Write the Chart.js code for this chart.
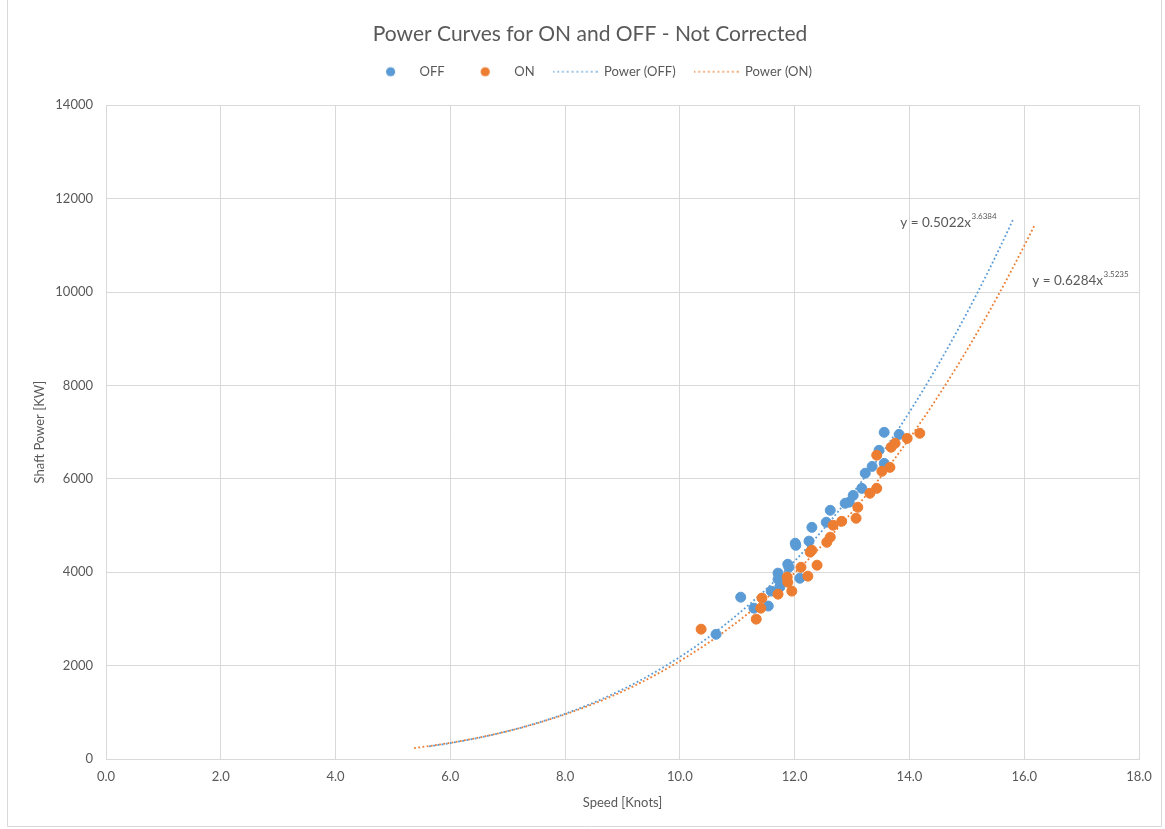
<!DOCTYPE html>
<html>
<head>
<meta charset="utf-8">
<title>Power Curves for ON and OFF - Not Corrected</title>
<script src="https://cdn.jsdelivr.net/npm/chart.js@4.4.0/dist/chart.umd.min.js"></script>
<style>
  html, body { margin: 0; padding: 0; background: #ffffff; }
  #wrap { width: 1165px; height: 829px; position: relative; }
  canvas { display: block; }
</style>
</head>
<body>
<div id="wrap"><canvas id="chart" width="1165" height="829"></canvas></div>
<script>
// Sea-trial measurements: speed through water [knots] vs. shaft power [kW]
const offSpeed = [10.63, 11.06, 11.29, 11.54, 11.59, 11.71, 11.71, 11.74, 11.88, 11.90, 12.09, 12.01, 12.02, 12.25,
                  12.30, 12.55, 12.62, 12.88, 12.95, 13.02, 13.17, 13.23, 13.35, 13.47, 13.56, 13.56, 13.82];
const offPower = [2670, 3465, 3230, 3275, 3595, 3980, 3850, 3680, 4170, 4105, 3870, 4620, 4575, 4665,
                  4960, 5070, 5325, 5475, 5500, 5645, 5795, 6120, 6265, 6610, 6995, 6330, 6950];

const onSpeed = [10.37, 11.33, 11.41, 11.43, 11.71, 11.87, 11.88, 11.95, 12.11, 12.23, 12.27, 12.30, 12.39, 12.56,
                 12.62, 12.67, 12.82, 13.07, 13.10, 13.31, 13.43, 13.43, 13.52, 13.66, 13.68, 13.75, 13.96, 14.18];
const onPower = [2780, 2995, 3230, 3445, 3530, 3895, 3785, 3595, 4105, 3915, 4430, 4470, 4150, 4640,
                 4750, 5005, 5090, 5155, 5390, 5690, 5795, 6505, 6160, 6245, 6675, 6760, 6865, 6975];

// Power-law trendlines y = a * x^b (fitted coefficients, with forecast range)
const offCoef = 0.5022, offExp = 3.6384, offRange = [5.63, 15.82];
const onCoef = 0.6284, onExp = 3.5235, onRange = [5.37, 16.18];

const seriesNames = ['OFF', 'ON', 'Power (OFF)', 'Power (ON)'];
const xTickValues = [0, 2, 4, 6, 8, 10, 12, 14, 16, 18];
const yTickValues = [0, 2000, 4000, 6000, 8000, 10000, 12000, 14000];

const BLUE = '#5B9BD5';
const ORANGE = '#ED7D31';
const TEXT = '#595959';
const GRID = '#D9D9D9';
const FONT = 'Lato';

function toPoints(xs, ys) {
  return xs.map((x, i) => ({ x: x, y: ys[i] }));
}

function powerCurve(a, b, range) {
  const pts = [];
  const steps = 120;
  for (let i = 0; i <= steps; i++) {
    const x = range[0] + (range[1] - range[0]) * i / steps;
    pts.push({ x: x, y: a * Math.pow(x, b) });
  }
  return pts;
}

// Small canvases used as legend symbols
function markerSymbol(color) {
  const c = document.createElement('canvas');
  c.width = 45; c.height = 14;
  const g = c.getContext('2d');
  g.fillStyle = color;
  g.beginPath();
  g.arc(22.5, 7, 4.6, 0, Math.PI * 2);
  g.fill();
  return c;
}
function dottedSymbol(color) {
  const c = document.createElement('canvas');
  c.width = 45; c.height = 4;
  const g = c.getContext('2d');
  g.strokeStyle = color;
  g.lineWidth = 1.6;
  g.setLineDash([1.6, 3.2]);
  g.beginPath();
  g.moveTo(0, 2);
  g.lineTo(45, 2);
  g.stroke();
  return c;
}

// Equation labels for the two trendlines
const equationPlugin = {
  id: 'equations',
  afterDatasetsDraw(chart, args, opts) {
    const { ctx, scales } = chart;
    ctx.save();
    ctx.fillStyle = TEXT;
    ctx.textBaseline = 'middle';
    ctx.textAlign = 'left';
    opts.items.forEach(item => {
      const px = scales.x.getPixelForValue(item.x);
      const py = scales.y.getPixelForValue(item.y);
      const main = 'y = ' + item.coef.toFixed(4) + 'x';
      ctx.font = '13.5px ' + FONT;
      ctx.fillText(main, px, py);
      const w = ctx.measureText(main).width;
      ctx.font = '8px ' + FONT;
      ctx.fillText(item.exp.toFixed(4), px + w + 0.5, py - 6);
    });
    ctx.restore();
  }
};

// Light frame around the chart
const framePlugin = {
  id: 'frame',
  afterDraw(chart) {
    const { ctx } = chart;
    ctx.save();
    ctx.strokeStyle = GRID;
    ctx.lineWidth = 1;
    ctx.beginPath();
    ctx.moveTo(7.5, 0);
    ctx.lineTo(7.5, 826.5);
    ctx.lineTo(1161.5, 826.5);
    ctx.lineTo(1161.5, 0);
    ctx.stroke();
    ctx.restore();
  }
};

// Extra room below the legend, before the plot area
const legendGapPlugin = {
  id: 'legendGap',
  afterInit(chart) {
    const legend = chart.legend;
    if (legend) {
      const baseFit = legend.fit;
      legend.fit = function () {
        baseFit.call(this);
        this.height += 17;
      };
    }
  }
};

function build() {
  const legendSymbols = [markerSymbol(BLUE), markerSymbol(ORANGE), dottedSymbol(BLUE), dottedSymbol(ORANGE)];

  new Chart(document.getElementById('chart'), {
    type: 'scatter',
    data: {
      datasets: [
        {
          label: seriesNames[0],
          data: toPoints(offSpeed, offPower),
          backgroundColor: BLUE,
          borderColor: BLUE,
          pointRadius: 5,
          borderWidth: 1,
          order: 1
        },
        {
          label: seriesNames[1],
          data: toPoints(onSpeed, onPower),
          backgroundColor: ORANGE,
          borderColor: ORANGE,
          pointRadius: 5,
          borderWidth: 1,
          order: 0
        },
        {
          label: seriesNames[2],
          data: powerCurve(offCoef, offExp, offRange),
          showLine: true,
          borderColor: BLUE,
          backgroundColor: BLUE,
          borderWidth: 1.8,
          borderDash: [1.8, 2.4],
          pointRadius: 0,
          order: 2
        },
        {
          label: seriesNames[3],
          data: powerCurve(onCoef, onExp, onRange),
          showLine: true,
          borderColor: ORANGE,
          backgroundColor: ORANGE,
          borderWidth: 1.8,
          borderDash: [1.8, 2.4],
          pointRadius: 0,
          order: 3
        }
      ]
    },
    options: {
      responsive: false,
      animation: false,
      devicePixelRatio: 1,
      layout: { padding: { left: 41, right: 26, top: 0, bottom: 0 } },
      plugins: {
        title: {
          display: true,
          text: 'Power Curves for ON and OFF - Not Corrected',
          color: TEXT,
          font: { family: FONT, size: 21, weight: 'normal' },
          padding: { top: 22, bottom: 0 }
        },
        legend: {
          display: true,
          position: 'top',
          labels: {
            usePointStyle: true,
            pointStyleWidth: 45,
            color: TEXT,
            font: { family: FONT, size: 13 },
            padding: 18,
            sort: (a, b) => a.datasetIndex - b.datasetIndex,
            generateLabels(chart) {
              const items = Chart.defaults.plugins.legend.labels.generateLabels(chart);
              items.forEach(it => { it.pointStyle = legendSymbols[it.datasetIndex]; });
              return items;
            }
          }
        },
        tooltip: { enabled: false },
        equations: {
          items: [
            { coef: offCoef, exp: offExp, x: 13.84, y: 11490 },
            { coef: onCoef, exp: onExp, x: 16.14, y: 10250 }
          ]
        }
      },
      scales: {
        x: {
          type: 'linear',
          min: xTickValues[0],
          max: xTickValues[xTickValues.length - 1],
          afterBuildTicks(scale) { scale.ticks = xTickValues.map(v => ({ value: v })); },
          afterFit(scale) { scale.height = 70; },
          ticks: {
            color: TEXT,
            font: { family: FONT, size: 13 },
            padding: 10,
            callback: v => Number(v).toFixed(1)
          },
          grid: { color: GRID, drawTicks: false },
          border: { color: GRID },
          title: {
            display: true,
            text: 'Speed [Knots]',
            color: TEXT,
            font: { family: FONT, size: 13 },
            padding: { top: 0, bottom: 18 }
          }
        },
        y: {
          type: 'linear',
          min: yTickValues[0],
          max: yTickValues[yTickValues.length - 1],
          afterBuildTicks(scale) { scale.ticks = yTickValues.map(v => ({ value: v })); },
          afterFit(scale) { scale.width = 65; },
          ticks: {
            color: TEXT,
            font: { family: FONT, size: 13 },
            padding: 13,
            callback: v => String(v)
          },
          grid: { color: GRID, drawTicks: false },
          border: { color: GRID },
          title: {
            display: true,
            text: 'Shaft Power [KW]',
            color: TEXT,
            font: { family: FONT, size: 13 },
            padding: { top: -9, bottom: 0 }
          }
        }
      }
    },
    plugins: [equationPlugin, framePlugin, legendGapPlugin]
  });
}

if (document.fonts && document.fonts.load) {
  Promise.all([
    document.fonts.load('13px ' + FONT),
    document.fonts.load('21px ' + FONT)
  ]).then(build, build);
} else {
  build();
}
</script>
</body>
</html>
